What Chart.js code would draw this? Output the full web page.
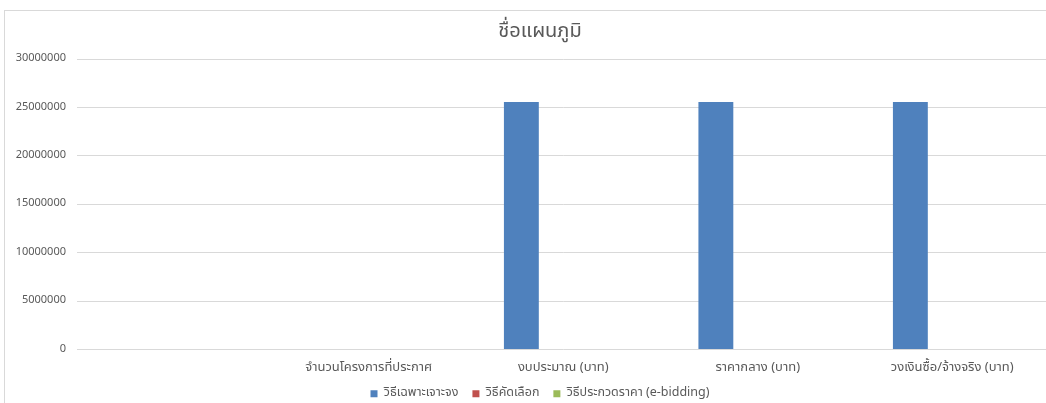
<!DOCTYPE html>
<html>
<head>
<meta charset="utf-8">
<script src="https://cdn.jsdelivr.net/npm/chart.js@4"></script>
<style>
    html, body { margin: 0; padding: 0; background: #fff; overflow: hidden; }
    #frame {
        position: absolute; left: 4px; top: 10px;
        width: 1070px; height: 399px;
        border: 1px solid #d9d9d9;
        background: #fff;
    }
    #frame canvas { display: block; }
</style>
</head>
<body>
<div id="frame"><canvas id="chart" width="1070" height="399"></canvas></div>
<script>
const categories = ['', 'จำนวนโครงการที่ประกาศ', 'งบประมาณ (บาท)', 'ราคากลาง (บาท)', 'วงเงินซื้อ/จ้างจริง (บาท)'];
const seriesNames = ['วิธีเฉพาะเจาะจง', 'วิธีคัดเลือก', 'วิธีประกวดราคา (e-bidding)'];
const specificValues = [0, 0, 25550000, 25550000, 25550000];
const selectionValues = [0, 0, 0, 0, 0];
const biddingValues = [0, 0, 0, 0, 0];
const seriesColors = ['#4f81bd', '#c0504d', '#9bbb59'];

const textColor = '#595959';
const gridColor = '#d9d9d9';
const fontFamily = 'Tahoma, "Noto Sans Thai", "Leelawadee UI", "DejaVu Sans", sans-serif';

const config = {
    type: 'bar',
    data: {
        labels: categories,
        datasets: [specificValues, selectionValues, biddingValues].map((values, i) => ({
            label: seriesNames[i],
            data: values,
            backgroundColor: seriesColors[i],
            borderWidth: 0,
            barPercentage: 0.833,
            categoryPercentage: 0.646,
        })),
    },
    options: {
        responsive: false,
        animation: false,
        layout: {
            padding: 0,
        },
        plugins: {
            title: {
                display: true,
                text: 'ชื่อแผนภูมิ',
                color: textColor,
                font: { family: fontFamily, size: 20, weight: 'normal' },
                padding: { top: 10, bottom: 14 },
            },
            legend: {
                position: 'bottom',
                labels: {
                    color: textColor,
                    boxWidth: 7,
                    boxHeight: 7,
                    padding: 14,
                    font: { family: fontFamily, size: 12.5 },
                },
            },
            tooltip: { enabled: false },
        },
        scales: {
            x: {
                clip: false,
                grid: { display: false, drawTicks: false },
                border: { display: false },
                ticks: {
                    color: textColor,
                    font: { family: fontFamily, size: 13 },
                    padding: 11,
                    maxRotation: 0,
                    autoSkip: false,
                },
                afterFit: (scale) => { scale.height = 24; },
            },
            y: {
                min: 0,
                max: 30000000,
                grid: { color: gridColor, drawTicks: false },
                border: { display: false },
                ticks: {
                    stepSize: 5000000,
                    color: textColor,
                    padding: 11,
                    font: { family: fontFamily, size: 11 },
                    callback: (value) => String(value),
                },
                afterFit: (scale) => { scale.width = 72; },
            },
            // empty right-hand axis: keeps the plot area off the right edge like the Excel chart
            yRight: {
                position: 'right',
                min: 0,
                max: 1,
                grid: { display: false, drawTicks: false },
                border: { display: false },
                ticks: { display: false },
                afterFit: (scale) => { scale.width = 25.5; },
            },
        },
    },
};

new Chart(document.getElementById('chart').getContext('2d'), config);
</script>
</body>
</html>
